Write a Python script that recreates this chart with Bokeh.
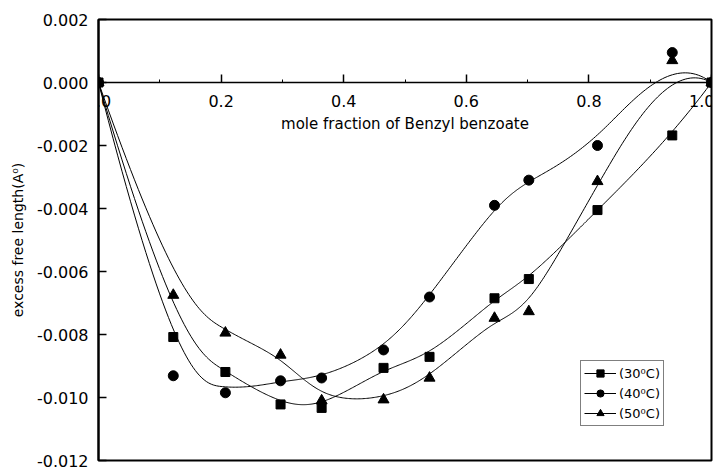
import numpy as np
from bokeh.plotting import figure
from bokeh.models import Range1d, FixedTicker, PrintfTickFormatter, Legend, LegendItem
from bokeh.embed import file_html
from bokeh.resources import INLINE

# ---- data ----
mole_fraction = [0.0, 0.122, 0.207, 0.297, 0.364, 0.465, 0.540, 0.646, 0.702, 0.814, 0.936, 1.0]
lf_30C = [0.0, -0.00808, -0.00919, -0.01022, -0.01033, -0.00906, -0.00871, -0.00685, -0.00624, -0.00405, -0.00168, 0.0]
lf_40C = [0.0, -0.00931, -0.00985, -0.00947, -0.00938, -0.00849, -0.00681, -0.00390, -0.00310, -0.00200, 0.00095, 0.0]
lf_50C = [0.0, -0.00675, -0.00795, -0.00865, -0.01010, -0.01007, -0.00938, -0.00748, -0.00727, -0.00314, 0.00070, 0.0]
series_labels = ["(30\u2070C)", "(40\u2070C)", "(50\u2070C)"]
x_ticks = [0.0, 0.2, 0.4, 0.6, 0.8, 1.0]
x_minor_ticks = [0.1, 0.3, 0.5, 0.7, 0.9]
y_ticks = [0.002, 0.0, -0.002, -0.004, -0.006, -0.008, -0.010, -0.012]


def bspline_curve(xs, ys, n=400, k=3):
    """Clamped uniform B-spline using the data points as control points
    (like Origin's 'B-Spline' line connection)."""
    P = np.column_stack([xs, ys])
    m = len(P)
    knots = np.concatenate([np.zeros(k), np.linspace(0, 1, m - k + 1), np.ones(k)])
    t = np.linspace(0, 1, n)
    nb = len(knots) - 1
    N = np.zeros((n, nb))
    for i in range(nb):
        N[:, i] = (knots[i] <= t) & (t < knots[i + 1])
    last = max(i for i in range(nb) if knots[i] < knots[i + 1])
    N[t >= 1.0, :] = 0
    N[t >= 1.0, last] = 1
    for d in range(1, k + 1):
        Nn = np.zeros((n, nb - d))
        for i in range(nb - d):
            a = knots[i + d] - knots[i]
            b = knots[i + d + 1] - knots[i + 1]
            term = np.zeros(n)
            if a > 0:
                term += (t - knots[i]) / a * N[:, i]
            if b > 0:
                term += (knots[i + d + 1] - t) / b * N[:, i + 1]
            Nn[:, i] = term
        N = Nn
    C = N @ P
    return C[:, 0], C[:, 1]


FONT = "DejaVu Sans"

p = figure(width=714, height=470, output_backend="svg", toolbar_location=None,
           x_range=Range1d(0, 1), y_range=Range1d(-0.012, 0.002),
           min_border_left=98, min_border_right=3, min_border_top=19, min_border_bottom=10)
p.grid.visible = False
p.background_fill_color = "white"
p.border_fill_color = "white"
p.outline_line_color = "black"
p.outline_line_width = 2
p.outline_line_alpha = 1.0

# x axis placed at y = 0
xa = p.xaxis[0]
xa.fixed_location = 0
xa.ticker = FixedTicker(ticks=x_ticks, minor_ticks=x_minor_ticks)
xa.formatter = PrintfTickFormatter(format="%.1f")
xa.axis_line_width = 1.5
xa.major_tick_in = 8
xa.major_tick_out = 0
xa.major_tick_line_width = 1.5
xa.minor_tick_in = 3
xa.minor_tick_out = 0
xa.major_label_standoff = 12
xa.major_label_text_font = FONT
xa.major_label_text_font_size = "16px"
xa.major_label_text_color = "black"
xa.axis_label = "mole fraction of Benzyl benzoate"
xa.axis_label_text_font = FONT
xa.axis_label_text_font_size = "15px"
xa.axis_label_text_font_style = "normal"
xa.axis_label_text_color = "black"
xa.axis_label_standoff = 5

ya = p.yaxis[0]
ya.ticker = FixedTicker(ticks=y_ticks)
ya.formatter = PrintfTickFormatter(format="%.3f")
ya.axis_line_width = 2
ya.major_tick_in = 8
ya.major_tick_out = 0
ya.major_tick_line_width = 1.5
ya.minor_tick_line_color = None
ya.major_label_standoff = 10
ya.major_label_text_font = FONT
ya.major_label_text_font_size = "16px"
ya.major_label_text_color = "black"
ya.axis_label = "excess free length(A\u2070)"
ya.axis_label_text_font = FONT
ya.axis_label_text_font_size = "14px"
ya.axis_label_text_font_style = "normal"
ya.axis_label_text_color = "black"
ya.axis_label_standoff = 8

items = []
for ys, marker, size, label in [(lf_30C, "square", 9, series_labels[0]),
                                (lf_40C, "circle", 10, series_labels[1]),
                                (lf_50C, "triangle", 11, series_labels[2])]:
    cx, cy = bspline_curve(mole_fraction, ys)
    r_line = p.line(cx, cy, line_color="black", line_width=1)
    r_pts = p.scatter(mole_fraction, ys, marker=marker, size=size,
                      fill_color="black", line_color="black")
    items.append(LegendItem(label=label, renderers=[r_line, r_pts]))

legend = Legend(items=items, location=(482, 34))
legend.label_text_font = FONT
legend.label_text_font_size = "13px"
legend.label_text_color = "black"
legend.border_line_color = "black"
legend.border_line_width = 1
legend.background_fill_color = "white"
legend.background_fill_alpha = 1
legend.glyph_width = 32
legend.glyph_height = 18
legend.label_height = 18
legend.label_standoff = 3
legend.spacing = 2
legend.padding = 3
legend.margin = 0
p.add_layout(legend, "center")

open("out.html", "w").write(file_html(p, INLINE))
